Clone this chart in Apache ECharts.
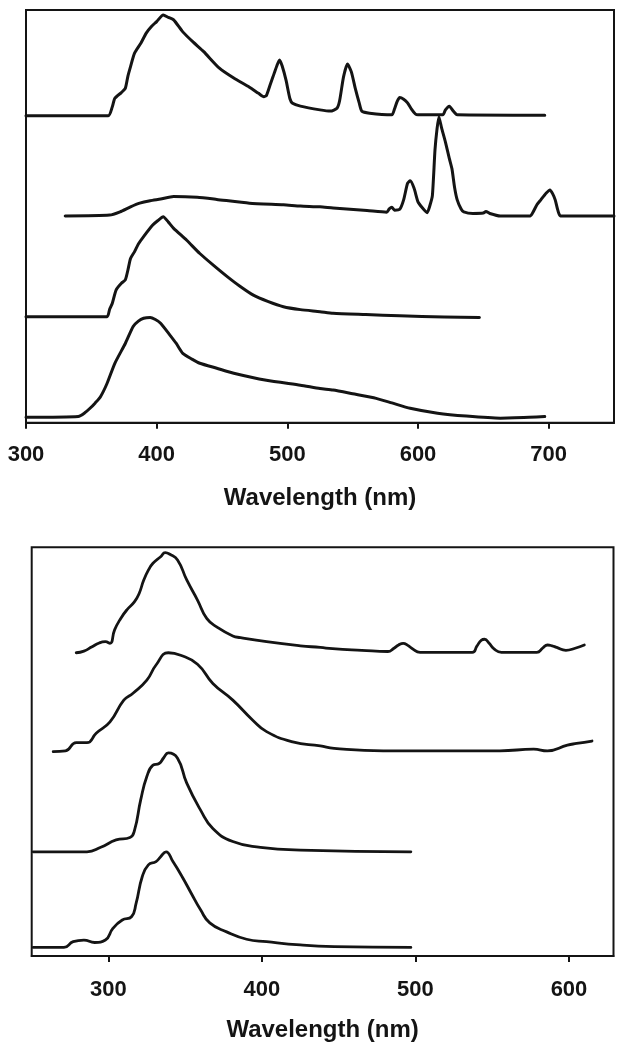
<!DOCTYPE html>
<html>
<head>
<meta charset="utf-8">
<script src="https://cdn.jsdelivr.net/npm/echarts@6/dist/echarts.min.js"></script>
<style>
html,body{margin:0;padding:0;background:#fff;}
#chart{width:624px;height:1050px;}
</style>
</head>
<body>
<div id="chart"></div>
<script>
// ---------- DATA (wavelength nm, offset intensity on a 0-100 scale) ----------
var topTicks = [300, 400, 500, 600, 700];
var bottomTicks = [300, 400, 500, 600];
var axisTitle = 'Wavelength (nm)';

// Upper panel, top to bottom
var topA = [[300,74.4],[363,74.4],[366,76.5],[368,78.6],[373,80],[376,81.0],[378,84],[380,86.3],[383,89.5],[388,92],[392,94.4],[396,96],[400,97.2],[405,98.8],[409,98.2],[413,97.6],[420,94.7],[428,92.2],[436,89.9],[448,85.9],[459,83.5],[471,81.3],[478,79.8],[482,79.0],[484,79.3],[487,82],[489,83.8],[492,86.5],[494,87.9],[496,86.5],[499,83.0],[502,78.5],[504,77.4],[510,76.7],[525,75.8],[533,75.5],[538,76.2],[540,78],[543,83.8],[546,86.9],[549,85],[552,81],[555,77.5],[557,75.5],[563,75.0],[580,74.6],[582,76],[584,77.8],[586,78.8],[589,78.4],[592,77.5],[595,76],[598,74.8],[600,74.6],[619,74.6],[621,75.8],[624,76.7],[627,75.5],[630,74.6],[697,74.5]];
var topB = [[330,50.1],[364,50.3],[372,51.1],[380,52.3],[387,53.2],[395,53.8],[403,54.2],[413,54.8],[431,54.6],[446,54.1],[471,53.2],[497,52.8],[510,52.5],[525,52.3],[535,52.0],[561,51.4],[576,51.0],[578,51.8],[580,52.2],[582,51.5],[586,51.7],[589,54],[592,58.0],[594,58.6],[597,56.8],[600,53.5],[603,52.2],[607,50.9],[609,52.5],[611,55],[613,66.1],[614.5,71],[616,74.1],[618,71.5],[621,68],[624,64],[626,61.5],[628,57],[630,54],[633,51.8],[635,51.1],[642,50.7],[650,50.8],[652,51.2],[655,50.7],[663,50.1],[686,50.1],[688,51],[691,52.8],[694,54.0],[698,55.6],[701,56.4],[703,55.5],[705,54.0],[707,51.5],[709,50.1],[750,50.1]];
var topC = [[300,25.7],[362,25.7],[364,27.5],[366,28.9],[369,32.2],[373,33.8],[376,34.6],[378,37],[380,39.8],[383,41.4],[386,43.3],[390,45.1],[397,47.9],[401,49],[405,49.9],[409,48.6],[413,47.1],[423,44.2],[433,41.0],[444,38.0],[454,35.4],[464,33.0],[474,30.9],[485,29.4],[497,28.1],[510,27.4],[525,26.9],[535,26.5],[560,26.2],[586,25.9],[620,25.6],[647,25.5]];
var topD = [[300,1.3],[340,1.5],[345,2.4],[349,3.5],[353,4.8],[357,6.3],[362,9.5],[368,14.4],[376,19.2],[382,23.3],[386,24.6],[390,25.3],[395,25.5],[399,25.0],[403,24.1],[410,21.3],[415,19.2],[420,16.8],[427,15.4],[433,14.4],[446,13.2],[459,12.0],[484,10.3],[510,9.1],[525,8.3],[535,7.9],[550,7.0],[568,5.9],[580,4.8],[594,3.5],[615,2.3],[637,1.6],[663,1.1],[685,1.3],[697,1.5]];

// Lower panel, top to bottom
var botE = [[279,74.2],[284,74.6],[289,75.6],[294,76.6],[298,76.9],[301,76.5],[304,79.8],[308,82.6],[312,84.7],[317,86.7],[320,88.7],[323,92.0],[326,94.4],[329,96.1],[334,97.7],[337,98.7],[340,98.3],[345,96.9],[351,92.0],[358,87.1],[364,82.6],[371,80.4],[381,78.3],[386,77.9],[403,76.9],[425,75.9],[438,75.5],[446,75.2],[465,74.8],[482,74.5],[486,75.3],[489,76.1],[492,76.5],[495,76],[498,75.2],[503,74.3],[537,74.3],[540,75.8],[543,77.3],[545,77.5],[548,76.5],[551,75.2],[556,74.3],[579,74.3],[583,75.4],[586,76.1],[589,75.9],[592,75.5],[598,74.8],[604,75.3],[610,76.1]];
var botF = [[264,50.0],[272,50.2],[279,52.2],[286,52.2],[292,54.5],[301,57.3],[310,62.6],[316,64.3],[325,67.5],[331,71.2],[339,74.2],[347,73.6],[358,71.4],[368,66.7],[381,62.6],[394,57.7],[403,54.9],[420,52.4],[438,51.4],[447,50.8],[479,50.2],[555,50.2],[577,50.6],[586,50.2],[599,51.6],[605,52.0],[615,52.6]];
var botG = [[251,25.5],[286,25.5],[295,26.6],[305,28.4],[314,29.0],[317,30.8],[321,38.2],[325,43.9],[329,46.7],[333,47.1],[336,48.5],[339,49.7],[345,48.4],[351,42.3],[360,35.7],[368,31.2],[381,28.0],[399,26.6],[425,25.9],[497,25.5]];
var botH = [[251,2.1],[271,2.1],[277,3.5],[284,3.9],[291,3.3],[298,3.9],[303,6.8],[309,8.8],[315,9.6],[318,12.9],[322,19.4],[326,22.3],[331,23.1],[334,24.3],[337.5,25.5],[342,23.1],[348,19.4],[354,15.3],[360,11.3],[366,8.1],[377,5.9],[390,4.1],[403,3.5],[425,2.7],[447,2.3],[497,2.1]];

// ---------- CHART ----------
var chart = echarts.init(document.getElementById('chart'), null, {renderer: 'canvas'});
var FONT = 'Liberation Sans, Arial, sans-serif';
var INK = '#141414';

function xAxisCfg(gridIndex, min, max, ticks, margin, nameGap) {
  return {
    type: 'value', gridIndex: gridIndex, min: min, max: max, interval: 100,
    axisLine: {show: true, onZero: false, lineStyle: {color: INK, width: 2}},
    axisTick: {show: true, inside: false, length: 6, customValues: ticks, lineStyle: {color: INK, width: 2}},
    axisLabel: {show: true, customValues: ticks, margin: margin, color: INK, fontFamily: FONT, fontSize: 22, fontWeight: 'bold'},
    splitLine: {show: false},
    name: axisTitle, nameLocation: 'middle', nameGap: nameGap,
    nameTextStyle: {color: INK, fontFamily: FONT, fontSize: 24, fontWeight: 'bold'}
  };
}
function yAxisCfg(gridIndex) {
  return {type: 'value', gridIndex: gridIndex, min: 0, max: 100, show: false};
}
function lineSeries(data, xi, smooth, width) {
  return {
    type: 'line', xAxisIndex: xi, yAxisIndex: xi, data: data,
    showSymbol: false, symbol: 'none', smooth: smooth,
    lineStyle: {color: INK, width: width, join: 'round', cap: 'round'}, silent: true, animation: false
  };
}

chart.setOption({
  animation: false,
  backgroundColor: '#fff',
  grid: [
    {left: 26, top: 10, width: 588, height: 412.7, show: true, borderColor: INK, borderWidth: 2, backgroundColor: 'transparent', containLabel: false, outerBoundsMode: 'none'},
    {left: 31.7, top: 547.3, width: 581.8, height: 408.7, show: true, borderColor: INK, borderWidth: 2, backgroundColor: 'transparent', containLabel: false, outerBoundsMode: 'none'}
  ],
  xAxis: [
    xAxisCfg(0, 300, 750, topTicks, 21, 64),
    xAxisCfg(1, 250, 629, bottomTicks, 23, 62)
  ],
  yAxis: [yAxisCfg(0), yAxisCfg(1)],
  series: [
    lineSeries(topA, 0, 0.2, 3),
    lineSeries(topB, 0, 0.2, 3),
    lineSeries(topC, 0, 0.2, 3),
    lineSeries(topD, 0, 0.2, 3),
    lineSeries(botE, 1, 0.5, 2.8),
    lineSeries(botF, 1, 0.5, 2.8),
    lineSeries(botG, 1, 0.5, 2.8),
    lineSeries(botH, 1, 0.5, 2.8)
  ]
});
</script>
</body>
</html>
